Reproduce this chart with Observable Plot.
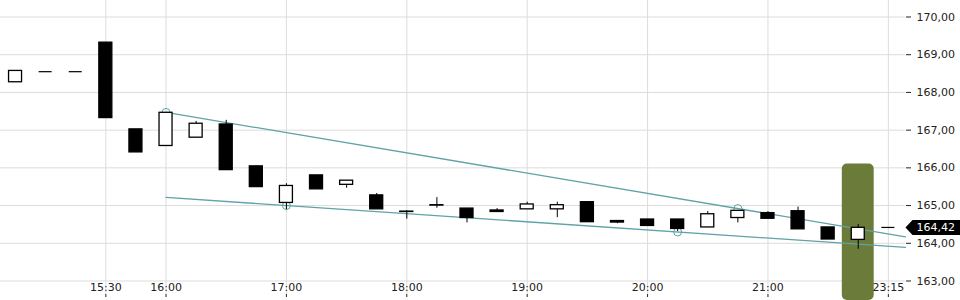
<!DOCTYPE html>
<html>
<head>
<meta charset="utf-8">
<script src="https://cdn.jsdelivr.net/npm/d3@7"></script>
<script src="https://cdn.jsdelivr.net/npm/@observablehq/plot@0.6"></script>
<style>
  html, body { margin: 0; padding: 0; background: #fff; }
  #chart svg { display: block; }
</style>
</head>
<body>
<div id="chart"></div>
<script>
// ---- data ----
const times = ["09:00","11:00","13:00","15:30","15:45","16:00","16:15","16:30","16:45","17:00",
  "17:15","17:30","17:45","18:00","18:15","18:30","18:45","19:00","19:15","19:30",
  "19:45","20:00","20:15","20:30","20:45","21:00","21:15","21:30","21:45","23:15"];
const open  = [168.27,168.55,168.55,169.32,167.02,166.58,166.80,167.15,166.04,165.07,
  165.80,165.55,165.27,164.84,165.01,164.92,164.87,164.90,164.90,165.09,
  164.59,164.63,164.63,164.42,164.67,164.80,164.85,164.42,164.09,164.42];
const close = [168.57,168.55,168.55,167.32,166.41,167.46,167.17,165.94,165.49,165.52,
  165.43,165.66,164.90,164.83,165.00,164.67,164.83,165.03,165.01,164.56,
  164.55,164.46,164.38,164.77,164.86,164.65,164.37,164.10,164.41,164.42];
const high  = [168.57,168.55,168.55,169.32,167.02,167.46,167.23,167.26,166.04,165.58,
  165.80,165.66,165.32,164.86,165.21,164.92,164.92,165.09,165.09,165.09,
  164.59,164.63,164.63,164.84,164.86,164.84,164.96,164.42,164.50,164.42];
const low   = [168.27,168.55,168.55,167.32,166.41,166.58,166.80,165.94,165.49,164.89,
  165.43,165.46,164.90,164.64,164.93,164.54,164.83,164.90,164.68,164.56,
  164.52,164.46,164.31,164.42,164.54,164.65,164.37,164.10,163.84,164.42];

const xTickLabels = ["15:30","16:00","17:00","18:00","19:00","20:00","21:00","23:15"];
const yTicks = [163,164,165,166,167,168,169,170];

const upperPivots = [["16:00",167.47],["20:45",164.92]];
const lowerPivots = [["17:00",165.00],["20:15",164.30]];
const trendStart = "16:00";

const highlightTime = "21:45";
const highlightTop = 166.1;
const lastPrice = 164.42;

// ---- build ----
const fmt = d => d.toFixed(2).replace(".", ",");
const idx = t => times.indexOf(t);
const candles = times.map((t, i) => ({i, t, o: open[i], c: close[i], h: high[i], l: low[i]}));
const flat = candles.filter(d => d.o === d.c);
const xDomain = [-0.5, times.length - 0.43];
const yDomain = [162.642, 170.4375];

function trend(pivots) {
  const [a, b] = pivots.map(([t, v]) => [idx(t), v]);
  const slope = (b[1] - a[1]) / (b[0] - a[0]);
  const f = x => a[1] + slope * (x - a[0]);
  const s = idx(trendStart);
  return [{x: s, y: f(s)}, {x: xDomain[1], y: f(xDomain[1])}];
}
const trendLines = [
  ...trend(upperPivots).map(d => ({...d, k: "upper"})),
  ...trend(lowerPivots).map(d => ({...d, k: "lower"}))
];
const pivots = [...upperPivots, ...lowerPivots].map(([t, v]) => ({x: idx(t), y: v}));

const teal = "#5fa2a8";
const half = 0.216;

const tagSymbol = {
  draw(ctx) {
    ctx.moveTo(0, 0);
    ctx.lineTo(7, -7.5);
    ctx.lineTo(56, -7.5);
    ctx.lineTo(56, 7.5);
    ctx.lineTo(7, 7.5);
    ctx.closePath();
  }
};

const chart = Plot.plot({
  width: 960,
  height: 300,
  marginLeft: 0,
  marginRight: 55,
  marginTop: 0,
  marginBottom: 6,
  style: {fontFamily: "DejaVu Sans", fontSize: "11px", color: "#222", background: "#fff"},
  x: {type: "linear", domain: xDomain, axis: null},
  y: {domain: yDomain, axis: null},
  marks: [
    Plot.gridY(yTicks, {stroke: "#dcdcdc", strokeOpacity: 1}),
    Plot.gridX(xTickLabels.map(idx), {stroke: "#dcdcdc", strokeOpacity: 1}),
    Plot.rect([{t: highlightTime, top: highlightTop}], {
      x1: d => idx(d.t) - 0.53, x2: d => idx(d.t) + 0.53,
      y1: d => d.top, y2: () => yDomain[0],
      insetBottom: -6, rx: 5, fill: "#6b7c3a"
    }),
    Plot.line(trendLines, {x: "x", y: "y", z: "k", stroke: teal, strokeWidth: 1.3}),
    Plot.dot(pivots, {x: "x", y: "y", r: 4, stroke: teal, fill: "none", strokeWidth: 1}),
    Plot.ruleX(candles, {x: "i", y1: "l", y2: "h", stroke: "#000", strokeWidth: 1}),
    Plot.rect(candles, {
      x1: d => d.i - half, x2: d => d.i + half,
      y1: "o", y2: "c",
      fill: d => d.c > d.o ? "#fff" : "#000",
      stroke: "#000", strokeWidth: 1.3
    }),
    Plot.ruleY(flat, {y: "c", x1: d => d.i - half, x2: d => d.i + half, stroke: "#000", strokeWidth: 1.2}),
    Plot.axisY(yTicks, {anchor: "right", tickSize: 5, tickPadding: 6, tickFormat: fmt, fill: "#222", stroke: "#222"}),
    Plot.axisX(xTickLabels.map(idx), {anchor: "bottom", tickSize: 3, tickPadding: -14, tickFormat: i => times[i], fill: "#222", stroke: "#222"}),
    Plot.dot([lastPrice], {y: d => d, frameAnchor: "right", symbol: tagSymbol, fill: "#000", stroke: "none"}),
    Plot.text([lastPrice], {y: d => d, frameAnchor: "right", dx: 11, textAnchor: "start", fill: "#fff", text: d => fmt(d), fontSize: 11})
  ]
});
document.getElementById("chart").appendChild(chart);
</script>
</body>
</html>
